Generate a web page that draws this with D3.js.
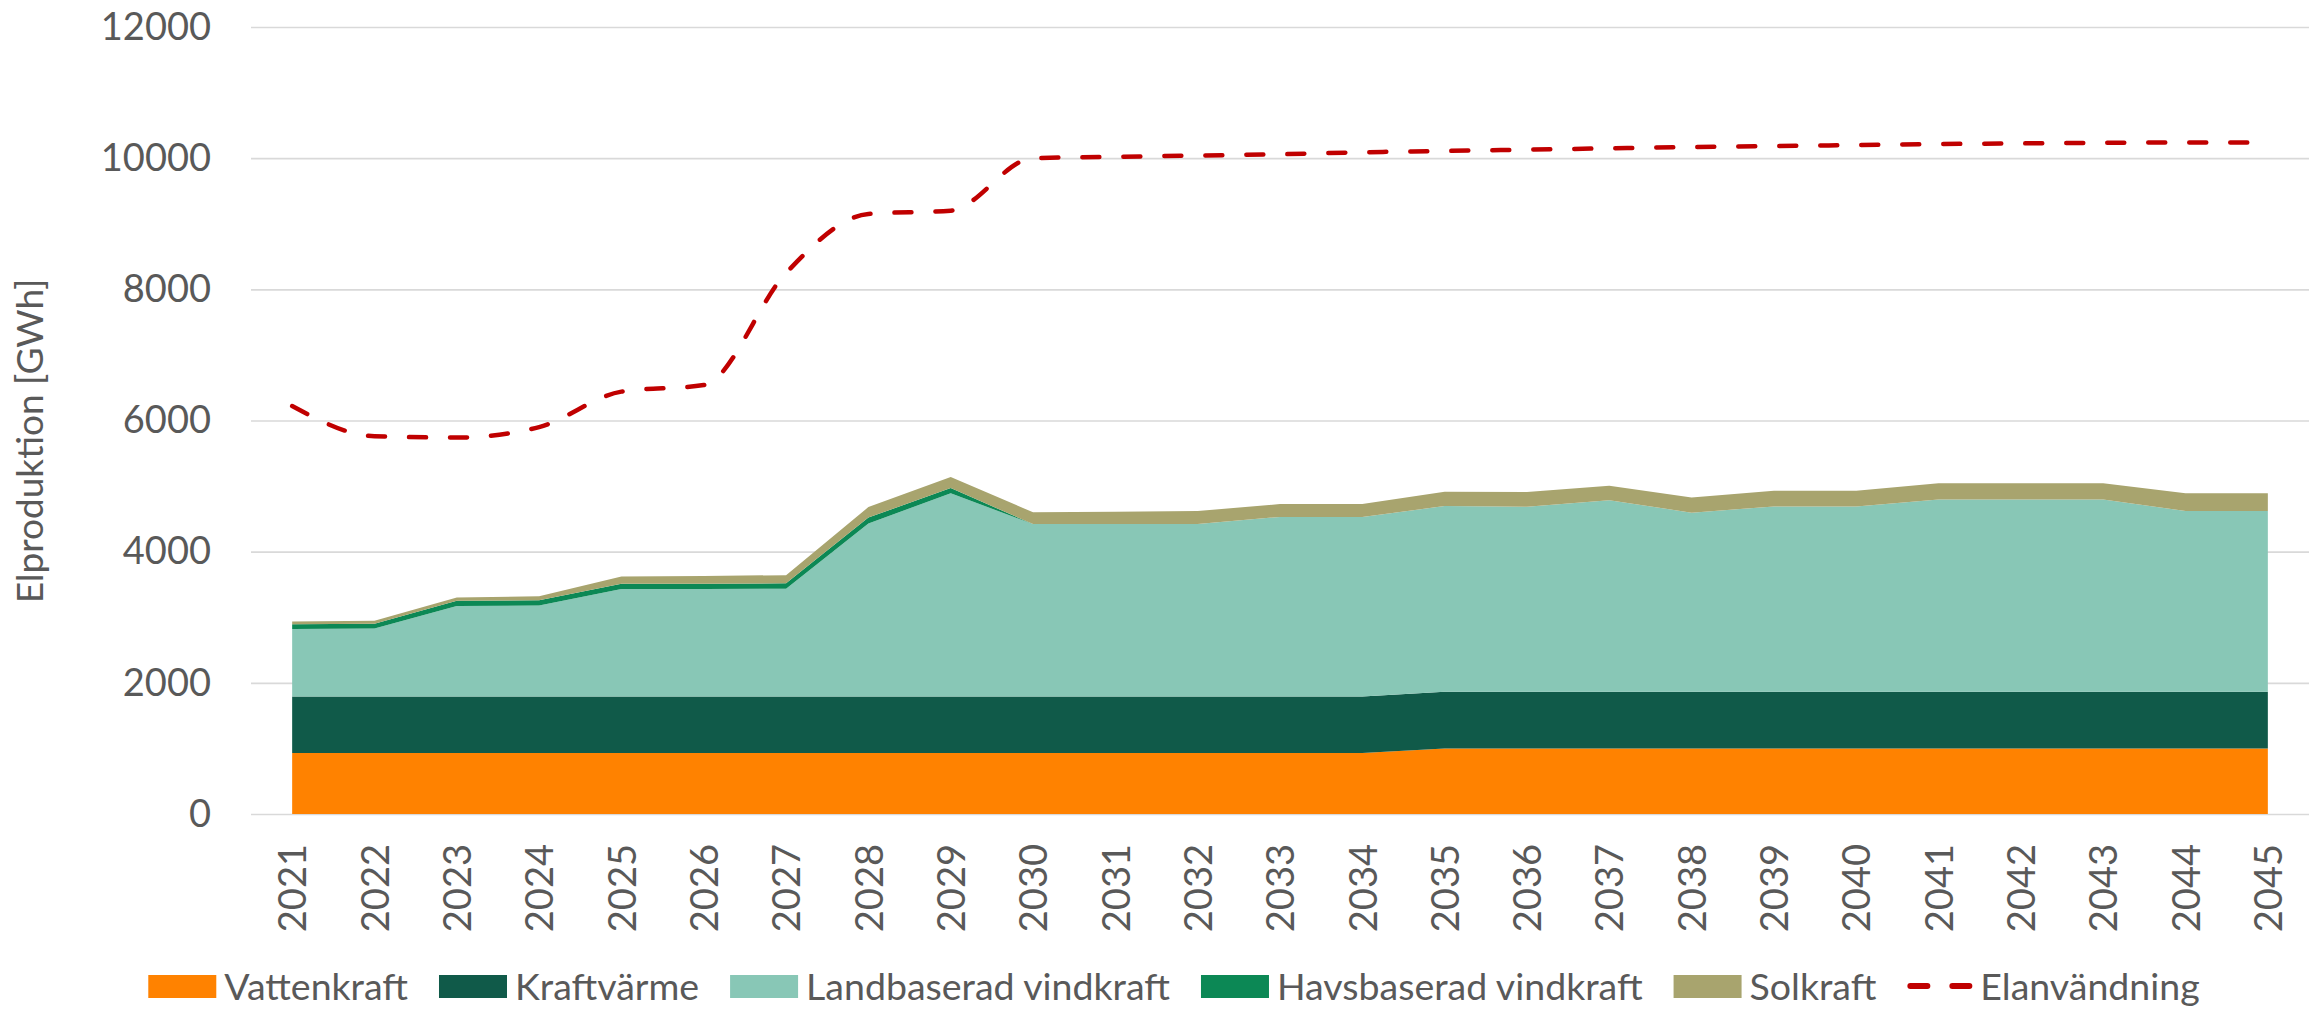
<!DOCTYPE html>
<html>
<head>
<meta charset="utf-8">
<script src="https://cdn.jsdelivr.net/npm/d3@7"></script>
<style>
  html, body { margin: 0; padding: 0; background: #fff; }
  svg text { font-family: Lato, 'Open Sans', sans-serif; fill: #595959; }
</style>
</head>
<body>
<div id="chart"></div>
<script>
'use strict';

const years = ['2021', '2022', '2023', '2024', '2025', '2026', '2027', '2028', '2029', '2030',
    '2031', '2032', '2033', '2034', '2035', '2036', '2037', '2038', '2039', '2040',
    '2041', '2042', '2043', '2044', '2045'];

const vattenkraft = [930, 930, 930, 930, 930, 930, 930, 930, 930, 930,
    930, 930, 930, 930, 1000, 1000, 1000, 1000, 1000, 1000,
    1000, 1000, 1000, 1000, 1000];

const kraftvarme = [860, 860, 860, 860, 860, 860, 860, 860, 860, 860,
    860, 860, 860, 860, 865, 865, 865, 865, 865, 865,
    865, 865, 865, 865, 865];

const landvind = [1030, 1040, 1380, 1390, 1640, 1640, 1645, 2640, 3100, 2630,
    2630, 2630, 2740, 2740, 2830, 2820, 2920, 2730, 2825, 2825,
    2930, 2930, 2930, 2755, 2755];

const havsvind = [75, 70, 80, 80, 80, 80, 82, 90, 80, 0,
    0, 0, 0, 0, 0, 0, 0, 0, 0, 0,
    0, 0, 0, 0, 0];

const solkraft = [40, 45, 50, 60, 110, 120, 125, 160, 170, 180,
    190, 200, 195, 195, 220, 225, 220, 230, 240, 240,
    250, 250, 250, 270, 270];

const elanvandning = [6220, 5760, 5740, 5900, 6440, 6540, 8250, 9150, 9200, 10000,
    10020, 10040, 10060, 10090, 10110, 10130, 10150, 10170, 10185, 10200,
    10215, 10225, 10235, 10240, 10240];

const yTicks = [0, 2000, 4000, 6000, 8000, 10000, 12000];

const series = [
    { key: 'Vattenkraft', values: vattenkraft, color: '#FF8200' },
    { key: 'Kraftvärme', values: kraftvarme, color: '#105A49' },
    { key: 'Landbaserad vindkraft', values: landvind, color: '#88C7B6' },
    { key: 'Havsbaserad vindkraft', values: havsvind, color: '#0C8855' },
    { key: 'Solkraft', values: solkraft, color: '#A8A46E' }
];
const lineName = 'Elanvändning';
const lineColor = '#C00000';


let dim = {
    width: 2323,
    height: 1009,
    left: 251,
    right: 14,
    top: 27,
    bottom: 195
};
dim.chartwidth = dim.width - dim.left - dim.right;
dim.chartheight = dim.height - dim.top - dim.bottom;

let svg = d3.select('#chart')
    .append('svg')
    .attr('width', dim.width)
    .attr('height', dim.height);

let g = svg.append('g')
    .attr('transform', 'translate(' + dim.left + ',' + dim.top + ')');

const xScale = d3.scalePoint()
    .domain(years)
    .range([0, dim.chartwidth])
    .padding(0.5);

const yScale = d3.scaleLinear()
    .domain([0, 12000])
    .range([dim.chartheight, 0]);

// gridlines + y labels
let yAxis = g.append('g')
    .call(d3.axisLeft(yScale)
        .tickValues(yTicks)
        .tickSize(-dim.chartwidth)
        .tickPadding(40)
        .tickFormat(d3.format('d')));
yAxis.select('.domain').remove();
yAxis.selectAll('line')
    .attr('stroke', '#D9D9D9')
    .attr('stroke-width', 1.6);
yAxis.selectAll('text')
    .style('font-size', '38px')
    .style('fill', '#595959');

// stacked areas
let rows = years.map((y, i) => {
    let row = { year: y };
    series.forEach(s => { row[s.key] = s.values[i]; });
    return row;
});

const stack = d3.stack().keys(series.map(s => s.key));
const stacked = stack(rows);

const area = d3.area()
    .x(d => xScale(d.data.year))
    .y0(d => yScale(d[0]))
    .y1(d => yScale(d[1]));

g.append('g')
    .selectAll('path')
    .data(stacked)
    .enter()
    .append('path')
    .attr('d', area)
    .attr('fill', (d, i) => series[i].color);

// x labels
let xAxis = g.append('g')
    .attr('transform', `translate(0, ${dim.chartheight})`)
    .call(d3.axisBottom(xScale).tickSize(0));
xAxis.select('.domain').remove();
xAxis.selectAll('text')
    .attr('x', -30)
    .attr('y', 0)
    .attr('dy', '0.36em')
    .attr('transform', 'rotate(-90)')
    .style('text-anchor', 'end')
    .style('font-size', '38px')
    .style('fill', '#595959');

// demand line
const line = d3.line()
    .x((d, i) => xScale(years[i]))
    .y(d => yScale(d))
    .curve(d3.curveMonotoneX);

g.append('path')
    .datum(elanvandning)
    .attr('d', line)
    .attr('fill', 'none')
    .attr('stroke', lineColor)
    .attr('stroke-width', 4.5)
    .attr('stroke-linecap', 'round')
    .attr('stroke-dasharray', '17 24');

// y axis title
svg.append('text')
    .attr('transform', 'translate(30, 441) rotate(-90)')
    .attr('text-anchor', 'middle')
    .attr('dy', '0.36em')
    .style('font-size', '37px')
    .text('Elproduktion [GWh]');

// legend
let legend = svg.append('g');
let legendItems = series.map(s => ({ name: s.key, color: s.color, type: 'rect' }));
legendItems.push({ name: lineName, color: lineColor, type: 'line' });

let cursor = 0;
const legendY = 986;
legendItems.forEach(item => {
    let it = legend.append('g').attr('transform', `translate(${cursor}, 0)`);
    let keyW = 68;
    if (item.type === 'rect') {
        it.append('rect')
            .attr('x', 0)
            .attr('y', legendY - 11)
            .attr('width', keyW)
            .attr('height', 23)
            .attr('fill', item.color);
    } else {
        keyW = 65;
        it.append('line')
            .attr('x1', 3).attr('x2', keyW - 3)
            .attr('y1', legendY).attr('y2', legendY)
            .attr('stroke', item.color)
            .attr('stroke-width', 6)
            .attr('stroke-linecap', 'round')
            .attr('stroke-dasharray', '17 25');
    }
    let t = it.append('text')
        .attr('x', keyW + 8)
        .attr('y', legendY)
        .attr('dy', '0.36em')
        .style('font-size', '37.5px')
        .text(item.name);
    cursor += keyW + 8 + t.node().getComputedTextLength() + 31;
});
cursor -= 31;
legend.attr('transform', `translate(${1174 - cursor / 2}, 0)`);
</script>
</body>
</html>
